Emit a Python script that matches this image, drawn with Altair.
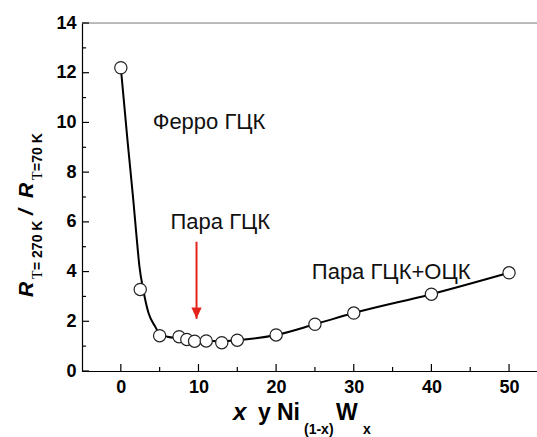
import altair as alt
import pandas as pd

# Measured ratio R(270 K) / R(70 K) versus W content x (at.%)
x_vals = [0, 2.5, 5, 7.5, 8.5, 9.5, 11, 13, 15, 20, 25, 30, 40, 50]
ratio = [12.2, 3.28, 1.42, 1.38, 1.27, 1.2, 1.21, 1.14, 1.24, 1.45, 1.88, 2.33, 3.09, 3.95]

# Guide curve drawn through the measurements
curve_x = [0, 0.9, 1.6, 2.0, 2.4, 2.9, 3.6, 4.4, 5.0, 6.0, 7.5, 9.0, 11.0, 13.0, 15.0, 20, 25, 30, 40, 50]
curve_y = [12.2, 9.15, 6.9, 5.5, 4.2, 3.25, 2.3, 1.8, 1.5, 1.38, 1.32, 1.26, 1.22, 1.2, 1.24, 1.45, 1.88, 2.33, 3.09, 3.95]

# Axis ticks
x_major = [0, 10, 20, 30, 40, 50]
x_minor = [5, 15, 25, 35, 45]
y_major = [0, 2, 4, 6, 8, 10, 12, 14]
y_minor = [1, 3, 5, 7, 9, 11, 13]

# Region labels
note_x = [4.1, 6.4, 24.6]
note_y = [9.75, 5.7, 3.7]
note_text = ["Ферро ГЦК", "Пара ГЦК", "Пара ГЦК+ОЦК"]

# Arrow marking the paramagnetic FCC composition
arrow_x = [9.75]
arrow_top = [5.2]
arrow_tip = [2.1]

W, H = 455, 348
X_DOM = [-5, 53.6]
Y_DOM = [0, 14]
SANS = "Liberation Sans"

xs = alt.Scale(domain=X_DOM, nice=False, zero=False)
ys = alt.Scale(domain=Y_DOM, nice=False, zero=False)

AX_X = alt.Axis(values=x_major, tickSize=0, labelPadding=7, title=None,
                labelFont=SANS, labelFontSize=18, labelFontWeight="bold",
                labelColor="black", domainColor="black", domainWidth=1.2, grid=False)
AX_Y = alt.Axis(values=y_major, tickSize=0, labelPadding=6, title=None,
                labelFont=SANS, labelFontSize=18, labelFontWeight="bold",
                labelColor="black", domainColor="black", domainWidth=1.2, grid=False)


def X(field):
    return alt.X(field, type="quantitative", scale=xs, axis=AX_X)


def Y(field):
    return alt.Y(field, type="quantitative", scale=ys, axis=AX_Y)


pts = pd.DataFrame({"x": x_vals, "r": ratio})
curve = pd.DataFrame({"x": curve_x, "r": curve_y})
notes = pd.DataFrame({"x": note_x, "y": note_y, "t": note_text})
arrow = pd.DataFrame({"x": arrow_x, "y0": arrow_top, "y1": arrow_tip})

line = alt.Chart(curve).mark_line(color="black", strokeWidth=2, interpolate="monotone").encode(
    x=X("x"), y=Y("r"))

dots = alt.Chart(pts).mark_point(shape="circle", size=150, filled=True, fill="white",
                                 stroke="#222", strokeWidth=1.2, opacity=1).encode(
    x=X("x"), y=Y("r"))


def xticks(vals, length):
    return alt.Chart(pd.DataFrame({"x": vals})).mark_rule(color="black", strokeWidth=1.2).encode(
        x=X("x"), y=alt.value(H), y2=alt.value(H - length))


def yticks(vals, length):
    return alt.Chart(pd.DataFrame({"r": vals})).mark_rule(color="black", strokeWidth=1.2).encode(
        y=Y("r"), x=alt.value(0), x2=alt.value(length))


top_line = alt.Chart(pd.DataFrame({"a": [0]})).mark_rule(color="#aaaaaa", strokeWidth=1.5).encode(
    x=alt.value(0), x2=alt.value(W), y=alt.value(0))

note_layer = alt.Chart(notes).mark_text(align="left", baseline="alphabetic", font=SANS,
                                        fontSize=22, color="#111").encode(
    x=X("x"), y=Y("y"), text="t:N")

shaft = alt.Chart(arrow).mark_rule(color="#e3241b", strokeWidth=2).encode(
    x=X("x"), y=Y("y0"), y2="y1:Q")

head = alt.Chart(arrow).mark_point(shape="M-0.9,-2L0.9,-2L0,0Z", size=130, filled=True,
                                   color="#e3241b", opacity=1).encode(
    x=X("x"), y=Y("y1"))


def label(txt, px, py, size, weight="bold", style="normal", font=SANS, angle=0):
    return alt.Chart(pd.DataFrame({"a": [0]})).mark_text(
        text=txt, align="left", baseline="alphabetic", font=font, fontSize=size,
        fontWeight=weight, fontStyle=style, angle=angle, color="black").encode(
        x=alt.value(px), y=alt.value(py))


# x-axis title: x у Ni(1-x)Wx
x_title = [
    label("x", 151, 397, 24, style="italic"),
    label("у", 176, 397, 23),
    label("Ni", 195, 397, 23),
    label("(1-x)", 222, 411, 14),
    label("W", 254, 397, 23),
    label("x", 281, 411, 14),
]

# y-axis title: R T=270K / R T=70K, rotated
y_title = [
    label("R", -49, 274, 21, style="italic", angle=270),
    label("T", -40, 256, 14, weight="normal", font="Liberation Serif", angle=270),
    label("= 270 K", -40, 247, 14, angle=270),
    label("/", -49, 192, 21, style="italic", angle=270),
    label("R", -49, 175, 21, style="italic", angle=270),
    label("T", -40, 157, 14, weight="normal", font="Liberation Serif", angle=270),
    label("=70 K", -40, 148, 14, angle=270),
]

chart = alt.layer(
    line, top_line,
    xticks(x_major, 7), xticks(x_minor, 4), yticks(y_major, 7), yticks(y_minor, 4),
    dots, note_layer, shaft, head, *x_title, *y_title,
).properties(
    width=W, height=H,
    autosize=alt.AutoSizeParams(type="none"),
    padding={"left": 82, "top": 23, "right": 0, "bottom": 66},
).configure_view(stroke=None).configure(background="white")

chart.save("out.html", embed_options={"renderer": "svg", "actions": False})
